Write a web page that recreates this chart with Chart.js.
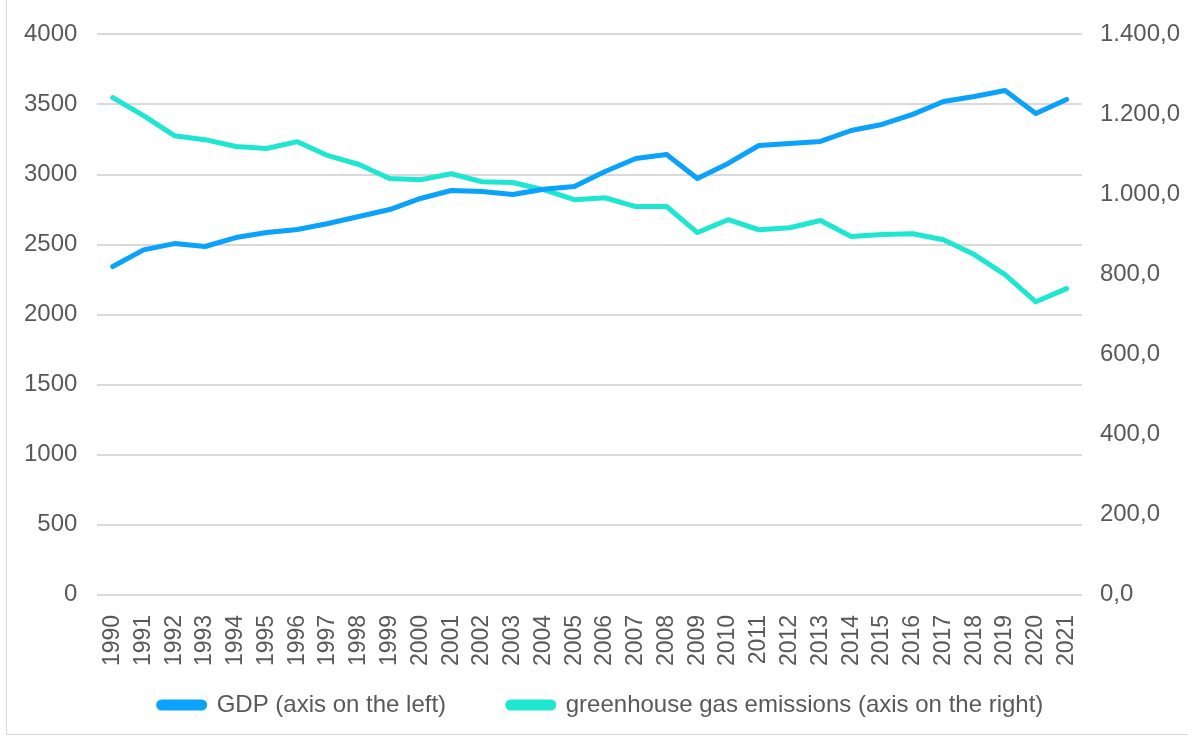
<!DOCTYPE html>
<html>
<head>
<meta charset="utf-8">
<script src="https://cdn.jsdelivr.net/npm/chart.js@4"></script>
<style>
    html, body { margin: 0; padding: 0; background: #fff; }
    #wrap {
        position: absolute; left: 6px; top: 0; width: 1182px; height: 735px;
        border-left: 1px solid #d9d9d9; border-bottom: 1px solid #d9d9d9;
        box-sizing: border-box;
    }
</style>
</head>
<body>
<div id="wrap"><canvas id="chart"></canvas></div>
<script>
// === Data ===
const years = [
    "1990", "1991", "1992", "1993", "1994", "1995", "1996", "1997", "1998", "1999",
    "2000", "2001", "2002", "2003", "2004", "2005", "2006", "2007", "2008", "2009",
    "2010", "2011", "2012", "2013", "2014", "2015", "2016", "2017", "2018", "2019",
    "2020", "2021"
];

const gdp = [
    2343, 2462, 2507, 2486, 2550, 2586, 2607, 2650, 2700, 2750,
    2829, 2886, 2879, 2857, 2895, 2914, 3021, 3114, 3143, 2971,
    3079, 3207, 3221, 3236, 3314, 3357, 3429, 3521, 3557, 3600,
    3436, 3536
];

const emissions = [
    1242, 1197, 1147, 1137, 1120, 1115, 1132, 1097, 1075, 1040,
    1037, 1052, 1032, 1030, 1012, 987, 992, 970, 970, 905,
    937, 912, 917, 935, 895, 900, 902, 887, 850, 800,
    732, 765
];

const seriesLabels = ["GDP (axis on the left)", "greenhouse gas emissions (axis on the right)"];

// === Styling ===
const chartProps = {
    gdpColor: "#0aa2fb",
    ghgColor: "#1ee6d0",
    lineWidth: 5,
    gridColor: "#d9d9d9",
    textColor: "#595959",
    fontFamily: "'Liberation Sans', Arial, sans-serif",
    fontSize: 24,
    xFontSize: 23,
};

const fmtComma = v => v.toLocaleString("de-DE", { minimumFractionDigits: 1, maximumFractionDigits: 1 });

new Chart(document.getElementById("chart"), {
    type: "line",
    data: {
        labels: years,
        datasets: [{
            label: seriesLabels[0],
            data: gdp,
            borderColor: chartProps.gdpColor,
            backgroundColor: chartProps.gdpColor,
            borderWidth: chartProps.lineWidth,
            pointRadius: 0,
            tension: 0,
            borderCapStyle: "round",
            borderJoinStyle: "round",
            yAxisID: "y",
        }, {
            label: seriesLabels[1],
            data: emissions,
            borderColor: chartProps.ghgColor,
            backgroundColor: chartProps.ghgColor,
            borderWidth: chartProps.lineWidth,
            pointRadius: 0,
            tension: 0,
            borderCapStyle: "round",
            borderJoinStyle: "round",
            yAxisID: "y1",
        }]
    },
    options: {
        responsive: true,
        maintainAspectRatio: false,
        animation: false,
        layout: { padding: { left: -3, right: -10, top: 34, bottom: 7 } },
        scales: {
            x: {
                offset: true,
                grid: { display: false },
                border: { display: false },
                ticks: {
                    minRotation: 90,
                    maxRotation: 90,
                    autoSkip: false,
                    color: chartProps.textColor,
                    font: { family: chartProps.fontFamily, size: chartProps.xFontSize },
                    padding: 12,
                }
            },
            y: {
                position: "left",
                min: 0,
                max: 4000,
                ticks: {
                    stepSize: 500,
                    color: chartProps.textColor,
                    font: { family: chartProps.fontFamily, size: chartProps.fontSize },
                    padding: 20,
                    callback: v => String(v),
                },
                grid: { color: chartProps.gridColor, lineWidth: 2, drawTicks: false },
                border: { display: false },
            },
            y1: {
                position: "right",
                min: 0,
                max: 1400,
                ticks: {
                    stepSize: 200,
                    color: chartProps.textColor,
                    font: { family: chartProps.fontFamily, size: chartProps.fontSize },
                    padding: 18,
                    callback: v => fmtComma(v),
                },
                grid: { display: false, drawTicks: false },
                border: { display: false },
            }
        },
        plugins: {
            legend: {
                position: "bottom",
                labels: {
                    boxWidth: 46,
                    boxHeight: 6,
                    useBorderRadius: true,
                    borderRadius: 3,
                    padding: 15,
                    color: chartProps.textColor,
                    font: { family: chartProps.fontFamily, size: chartProps.fontSize },
                    generateLabels: chart => {
                        const items = Chart.defaults.plugins.legend.labels.generateLabels(chart);
                        items.forEach((it, i) => {
                            if (i < items.length - 1) it.text = it.text + "       ";
                        });
                        return items;
                    }
                }
            },
            tooltip: { enabled: false }
        }
    }
});
</script>
</body>
</html>
